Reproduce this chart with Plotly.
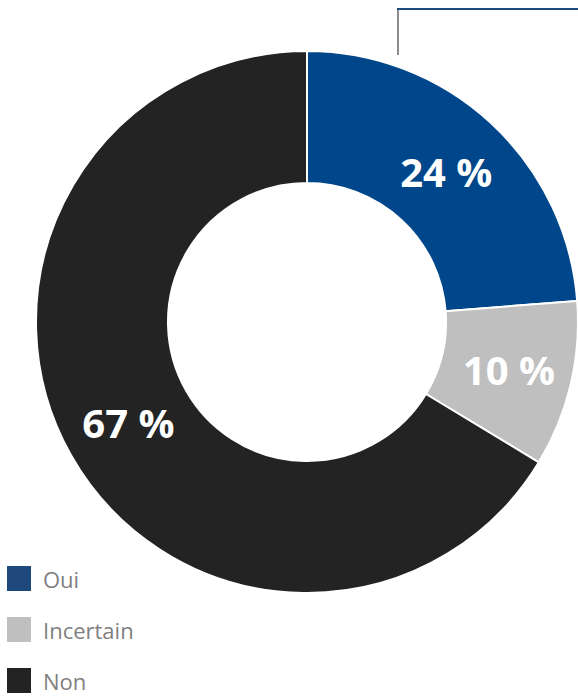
import plotly.graph_objects as go

categories = ["Oui", "Incertain", "Non"]
values = [24, 10, 67]
slice_colors = ["#00468B", "#BFBFBF", "#232323"]
legend_colors = ["#1F497D", "#BFBFBF", "#232323"]
labels_text = ["24 %", "10 %", "67 %"]

W, H = 578, 697

fig = go.Figure()
fig.add_trace(go.Pie(
    labels=categories,
    values=values,
    text=labels_text,
    textinfo="text",
    textposition="inside",
    insidetextorientation="horizontal",
    textfont=dict(family="Open Sans", size=40, color="white", weight="bold"),
    marker=dict(colors=slice_colors, line=dict(color="white", width=2)),
    hole=0.513,
    sort=False,
    direction="clockwise",
    rotation=0,
    showlegend=False,
    domain=dict(x=[36 / W, 1.0], y=[104 / H, 646 / H]),
))

shapes = []
annotations = []
# callout bracket at top right
shapes.append(dict(type="line", xref="paper", yref="paper",
                   x0=398 / W, x1=398 / W, y0=1 - 9 / H, y1=1 - 55 / H,
                   line=dict(color="#8C8C8C", width=2)))
shapes.append(dict(type="line", xref="paper", yref="paper",
                   x0=397 / W, x1=1.0, y0=1 - 9 / H, y1=1 - 9 / H,
                   line=dict(color="#1F497D", width=2)))

# legend
for i, (cat, col) in enumerate(zip(categories, legend_colors)):
    top = 566 + i * 51
    shapes.append(dict(type="rect", xref="paper", yref="paper",
                       x0=7 / W, x1=31 / W, y0=1 - top / H, y1=1 - (top + 25) / H,
                       fillcolor=col, line=dict(width=0)))
    annotations.append(dict(xref="paper", yref="paper", x=41 / W, y=1 - (top + 13) / H,
                            xanchor="left", yanchor="middle", showarrow=False,
                            text=cat, font=dict(family="Open Sans", size=22, color="#7F7F7F")))

fig.update_layout(
    width=W, height=H,
    margin=dict(l=0, r=0, t=0, b=0),
    paper_bgcolor="white", plot_bgcolor="white",
    shapes=shapes, annotations=annotations,
)

fig.write_html("out.html")
